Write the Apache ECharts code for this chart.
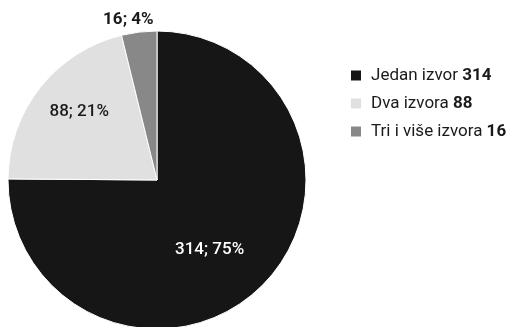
<!DOCTYPE html>
<html lang="hr">
<head>
<meta charset="UTF-8" />
<title>Izvori</title>
<script type="text/javascript" src="https://cdn.jsdelivr.net/npm/echarts@6/dist/echarts.min.js"></script>
<style>
  html, body { margin: 0; padding: 0; background: #fff; }
</style>
</head>
<body>
<div id="main" style="width: 510px; height: 327px;"></div>
<script type="text/javascript">
    // podaci
    var names = ['Jedan izvor', 'Dva izvora', 'Tri i više izvora'];
    var counts = [314, 88, 16];
    var percents = [75, 21, 4];
    var colors = ['#161616', '#e0e0e0', '#888888'];

    var myChart = echarts.init(document.getElementById('main'));

    var data = [];
    for (var i = 0; i < names.length; i++) {
        data.push({
            name: names[i],
            value: counts[i],
            itemStyle: { color: colors[i] },
            label: {
                position: i === 2 ? 'outside' : 'inside',
                color: i === 0 ? '#ffffff' : '#1a1a1a',
                fontWeight: i === 2 ? 'bold' : 500
            }
        });
    }

    // pomak natpisa
    var labelShift = [[-2, 15], [-17, -20], [20, -8]];

    var options = {
        animation: false,
        textStyle: { fontFamily: 'Roboto' },
        legend: {
            orient: 'vertical',
            left: 346,
            top: 62,
            itemWidth: 10,
            itemHeight: 10,
            itemGap: 11,
            icon: 'rect',
            selectedMode: false,
            itemStyle: { borderWidth: 0 },
            textStyle: {
                rich: {
                    a: { fontSize: 17, color: '#1a1a1a', fontFamily: 'Roboto', padding: [0, 0, 0, 5] },
                    n: { fontSize: 17, fontWeight: 'bold', color: '#1a1a1a', fontFamily: 'Roboto' }
                }
            },
            formatter: function (name) {
                var k = names.indexOf(name);
                return '{a|' + name + ' }{n|' + counts[k] + '}';
            }
        },
        series: [{
            type: 'pie',
            center: [157, 180],
            radius: [0, 149],
            startAngle: 90,
            clockwise: true,
            silent: true,
            itemStyle: { borderColor: '#ffffff', borderWidth: 1 },
            label: {
                fontSize: 17,
                formatter: function (p) {
                    return counts[p.dataIndex] + '; ' + percents[p.dataIndex] + '%';
                }
            },
            labelLine: { show: false, length: 4, length2: 0 },
            labelLayout: function (p) {
                var s = labelShift[p.dataIndex];
                return { dx: s[0], dy: s[1] };
            },
            data: data
        }]
    };
    myChart.setOption(options);
</script>
</body>
</html>
